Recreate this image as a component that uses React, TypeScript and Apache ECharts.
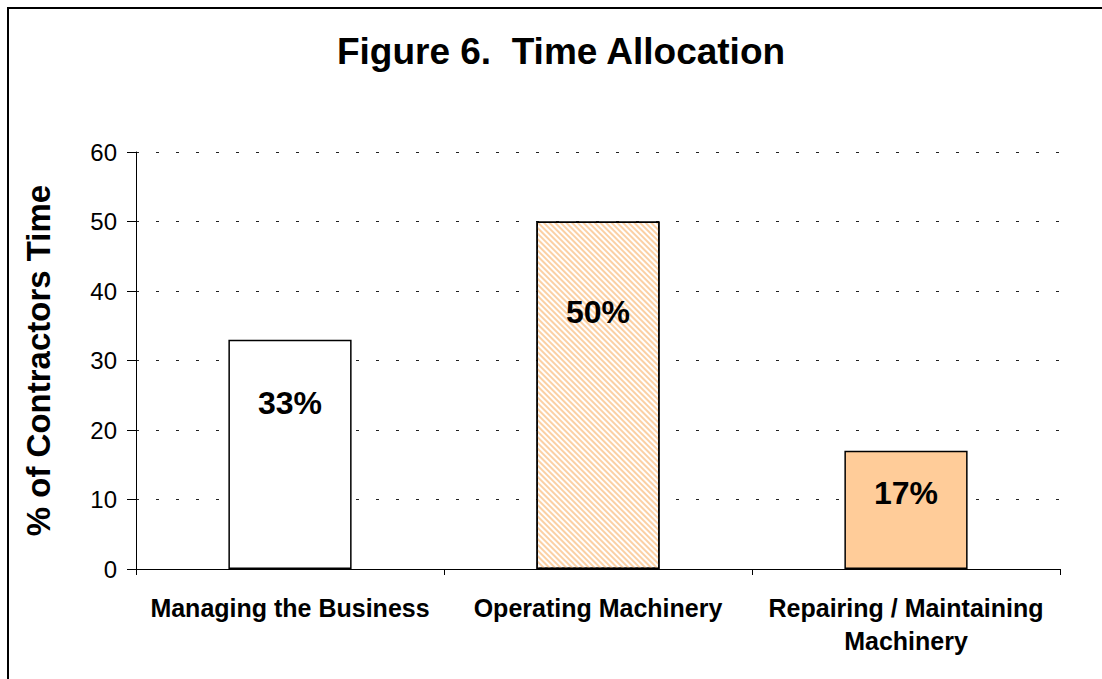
import React, { useEffect, useRef } from "react";
import * as echarts from "echarts";

const categories = ["Managing the Business", "Operating Machinery", "Repairing / Maintaining\nMachinery"];
const values = [33, 50, 17];
const valueLabels = ["33%", "50%", "17%"];
const yTicks = [0, 10, 20, 30, 40, 50, 60];

const labelDistances = [47, 74, 26];

export default function App() {
  const ref = useRef<HTMLDivElement>(null);
  useEffect(() => {
    if (!ref.current) return;
    const chart = echarts.init(ref.current, null, { renderer: "svg" });
    const font = "'Liberation Sans', Arial, sans-serif";
    const styles = [
      { color: "#ffffff" },
      {
        color: "#ffffff",
        decal: {
          symbol: "rect",
          symbolSize: 1,
          dashArrayX: [1, 0],
          dashArrayY: [2, 2],
          rotation: Math.PI / 4,
          color: "#FBD0A4",
        },
      },
      { color: "#FFCC99" },
    ];
    chart.setOption({
      animation: false,
      backgroundColor: "#ffffff",
      title: {
        text: "Figure 6.  Time Allocation",
        left: 556,
        textAlign: "center",
        top: 28,
        textStyle: { fontFamily: font, fontSize: 37, fontWeight: "bold", color: "#000" },
      },
      graphic: [
        {
          type: "rect",
          shape: { x: 8, y: 8, width: 1200, height: 800 },
          style: { fill: "none", stroke: "#000", lineWidth: 2 },
          silent: true,
        },
      ],
      grid: { left: 136, right: 42, top: 152, bottom: 110 },
      xAxis: {
        type: "category",
        data: categories,
        axisLine: { lineStyle: { color: "#000", width: 1 } },
        axisTick: { show: true, length: 6, lineStyle: { color: "#000" } },
        axisLabel: {
          margin: 22,
          fontFamily: font,
          fontSize: 25,
          fontWeight: "bold",
          color: "#000",
          lineHeight: 33,
          interval: 0,
        },
      },
      yAxis: {
        type: "value",
        min: yTicks[0],
        max: yTicks[yTicks.length - 1],
        interval: 10,
        name: "% of Contractors Time",
        nameLocation: "middle",
        nameGap: 81,
        nameTextStyle: { fontFamily: font, fontSize: 33, fontWeight: "bold", color: "#000" },
        axisLine: { show: true, lineStyle: { color: "#000", width: 1 } },
        axisTick: { show: true, length: 9, lineStyle: { color: "#000" } },
        axisLabel: { margin: 19, fontFamily: font, fontSize: 24, color: "#000" },
        splitLine: { show: true, lineStyle: { color: "#222", type: [3, 17], width: 1 } },
      },
      series: [
        {
          type: "bar",
          barWidth: "40%",
          data: values.map((v, i) => ({
            value: v,
            itemStyle: { ...styles[i], borderColor: "#000", borderWidth: 1.5 },
            label: {
              show: true,
              position: "insideTop",
              distance: labelDistances[i],
              formatter: valueLabels[i],
              fontFamily: font,
              fontSize: 32,
              fontWeight: "bold",
              color: "#000",
            },
          })),
        },
      ],
    });
    return () => chart.dispose();
  }, []);
  return (
    <div
      ref={ref}
      style={{ position: "fixed", left: 0, top: 0, width: 1102, height: 679, background: "#fff" }}
    />
  );
}
